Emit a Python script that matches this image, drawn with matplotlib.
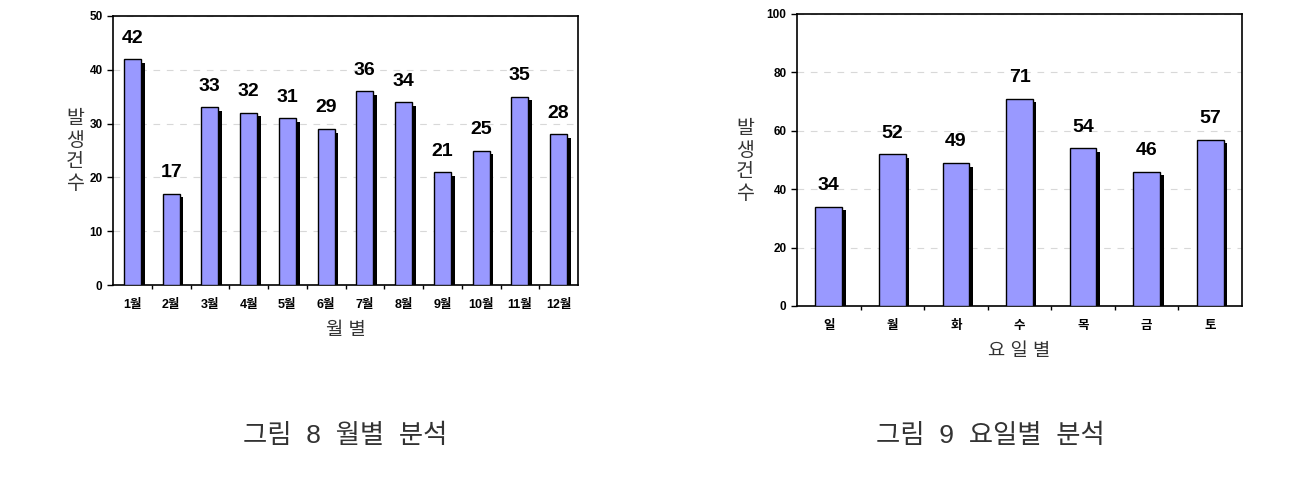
import matplotlib
matplotlib.use("Agg")
import matplotlib.pyplot as plt
import matplotlib.patheffects as pe
from matplotlib.ticker import FixedLocator

plt.rcParams['font.family'] = ['Liberation Sans', 'Noto Sans CJK KR']

# data
months = ["1월", "2월", "3월", "4월", "5월", "6월", "7월", "8월", "9월", "10월", "11월", "12월"]
month_counts = [42, 17, 33, 32, 31, 29, 36, 34, 21, 25, 35, 28]
days = ["일", "월", "화", "수", "목", "금", "토"]
day_counts = [34, 52, 49, 71, 54, 46, 57]

BAR_COLOR = "#9999ff"


def draw_panel(ax, labels, values, ymax, ystep, width, xlabel):
    x = list(range(len(labels)))
    bars = ax.bar(x, values, width=width, color=BAR_COLOR, edgecolor="black",
                  linewidth=1.0, zorder=3)
    for b in bars:
        b.set_path_effects([pe.SimplePatchShadow(offset=(2.6, -2.6), shadow_rgbFace="black", alpha=1.0),
                            pe.Normal()])
    for xi, v in zip(x, values):
        ax.annotate(str(v), (xi, v), xytext=(0, 9), textcoords="offset points",
                    ha="center", va="bottom", fontsize=14, fontweight="bold")
    ax.set_xlim(-0.5, len(labels) - 0.5)
    ax.set_ylim(0, ymax)
    ax.set_yticks(range(0, ymax + 1, ystep))
    ax.set_xticks(x)
    ax.set_xticklabels(labels, fontsize=9, fontweight="bold")
    ax.xaxis.set_minor_locator(FixedLocator([i + 0.5 for i in x[:-1]]))
    ax.tick_params(axis="x", which="major", length=0, pad=10)
    ax.tick_params(axis="x", which="minor", length=3, direction="out", width=1)
    ax.tick_params(axis="y", length=4, direction="out", width=1, labelsize=8.5)
    for lab in ax.get_yticklabels():
        lab.set_fontweight("bold")
    for s in ax.spines.values():
        s.set_linewidth(1.2)
    ax.yaxis.grid(True, linestyle=(0, (6, 6)), color="#d8d8d8", linewidth=0.8, zorder=0)
    ax.set_axisbelow(True)
    ax.set_xlabel(xlabel, fontsize=13.5, labelpad=8, color="#333333")


fig = plt.figure(figsize=(13.08, 4.95), dpi=100)

ax1 = fig.add_axes([113 / 1308, 1 - 285 / 495, 465 / 1308, 269 / 495])
draw_panel(ax1, months, month_counts, 50, 10, 0.44, "월 별")
fig.text(75 / 1308, 1 - 152 / 495, "발\n생\n건\n수", ha="center", va="center",
         fontsize=14, color="#333333", linespacing=1.3)

ax2 = fig.add_axes([797 / 1308, 1 - 306 / 495, 445 / 1308, 292 / 495])
draw_panel(ax2, days, day_counts, 100, 20, 0.42, "요 일 별")
fig.text(745 / 1308, 1 - 162 / 495, "발\n생\n건\n수", ha="center", va="center",
         fontsize=14, color="#333333", linespacing=1.3)

fig.text(345 / 1308, 1 - 436 / 495, "그림  8  월별  분석", ha="center", va="center",
         fontsize=19, fontweight="light", color="#333333")
fig.text(990 / 1308, 1 - 436 / 495, "그림  9  요일별  분석", ha="center", va="center",
         fontsize=19, fontweight="light", color="#333333")

fig.savefig("out.png", dpi=100)
